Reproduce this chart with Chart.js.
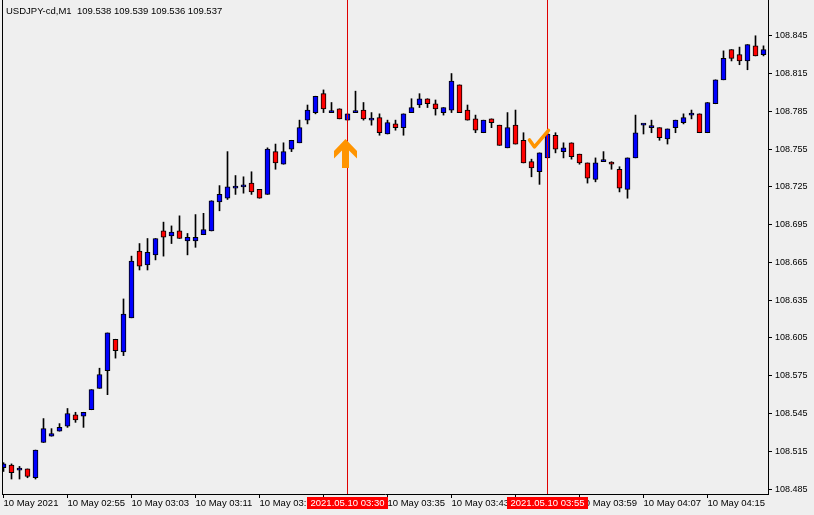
<!DOCTYPE html>
<html>
<head>
<meta charset="utf-8">
<script src="https://cdn.jsdelivr.net/npm/chart.js@4.4.1/dist/chart.umd.min.js"></script>
<style>
  html, body { margin: 0; padding: 0; background: #efefef; }
  #wrap { width: 814px; height: 515px; }
</style>
</head>
<body>
<div id="wrap"><canvas id="chart" width="814" height="515"></canvas></div>
<script>
// USDJPY-cd, M1 candles, 10 May 2021 02:47 .. 04:22
const opens  = [108.502,108.504,108.500,108.501,108.494,108.522,108.527,108.531,108.535,108.544,
                108.543,108.548,108.565,108.579,108.604,108.594,108.621,108.674,108.663,108.671,
                108.690,108.686,108.690,108.682,108.682,108.687,108.690,108.713,108.716,108.724,
                108.725,108.728,108.723,108.719,108.753,108.743,108.755,108.760,108.778,108.784,
                108.799,108.784,108.787,108.778,108.784,108.786,108.778,108.780,108.767,108.775,
                108.772,108.784,108.790,108.795,108.791,108.784,108.786,108.806,108.786,108.779,
                108.768,108.779,108.774,108.756,108.774,108.762,108.745,108.737,108.748,108.766,
                108.753,108.760,108.751,108.744,108.731,108.745,108.744,108.739,108.723,108.748,
                108.774,108.772,108.772,108.763,108.772,108.776,108.782,108.783,108.768,108.791,
                108.810,108.834,108.830,108.825,108.837,108.830];
const highs  = [108.506,108.505,108.503,108.501,108.516,108.541,108.533,108.537,108.549,108.546,
                108.546,108.564,108.581,108.609,108.604,108.636,108.670,108.680,108.684,108.684,
                108.697,108.694,108.702,108.688,108.703,108.704,108.714,108.726,108.753,108.734,
                108.733,108.737,108.723,108.756,108.759,108.760,108.762,108.778,108.790,108.797,
                108.802,108.792,108.787,108.783,108.801,108.792,108.784,108.783,108.778,108.778,
                108.783,108.795,108.799,108.795,108.794,108.788,108.815,108.806,108.790,108.782,
                108.778,108.779,108.774,108.784,108.786,108.768,108.747,108.752,108.768,108.768,
                108.760,108.760,108.751,108.744,108.748,108.753,108.745,108.741,108.748,108.782,
                108.775,108.778,108.772,108.771,108.778,108.783,108.786,108.783,108.792,108.810,
                108.833,108.834,108.836,108.838,108.845,108.837];
const lows   = [108.499,108.493,108.493,108.494,108.493,108.522,108.527,108.531,108.534,108.538,
                108.534,108.548,108.565,108.560,108.589,108.591,108.621,108.659,108.659,108.667,
                108.670,108.680,108.684,108.671,108.677,108.687,108.690,108.706,108.715,108.719,
                108.720,108.719,108.716,108.719,108.739,108.743,108.753,108.760,108.775,108.783,
                108.784,108.784,108.779,108.778,108.784,108.778,108.774,108.766,108.767,108.770,
                108.766,108.784,108.788,108.788,108.782,108.782,108.784,108.784,108.778,108.768,
                108.768,108.772,108.758,108.756,108.759,108.744,108.733,108.727,108.748,108.752,
                108.748,108.747,108.743,108.728,108.729,108.745,108.739,108.721,108.716,108.748,
                108.767,108.768,108.762,108.759,108.768,108.775,108.779,108.768,108.768,108.791,
                108.810,108.825,108.822,108.818,108.829,108.829];
const closes = [108.505,108.498,108.500,108.495,108.516,108.533,108.529,108.534,108.545,108.540,
                108.546,108.564,108.576,108.609,108.595,108.624,108.666,108.662,108.673,108.684,
                108.685,108.689,108.684,108.685,108.685,108.691,108.714,108.719,108.725,108.724,
                108.725,108.721,108.716,108.755,108.744,108.753,108.762,108.772,108.786,108.797,
                108.787,108.784,108.779,108.783,108.784,108.779,108.778,108.768,108.776,108.772,
                108.783,108.788,108.795,108.791,108.787,108.788,108.809,108.784,108.778,108.770,
                108.778,108.776,108.758,108.772,108.759,108.744,108.740,108.752,108.767,108.755,
                108.756,108.749,108.744,108.732,108.744,108.745,108.743,108.724,108.748,108.768,
                108.774,108.772,108.764,108.771,108.778,108.780,108.782,108.768,108.792,108.810,
                108.827,108.827,108.825,108.838,108.829,108.834];

const xTickIdx    = [0, 8, 16, 24, 32, 40, 48, 56, 64, 72, 80, 88];
const xTickLabels = ['10 May 2021', '10 May 02:55', '10 May 03:03', '10 May 03:11', '10 May 03:19',
                     '10 May 03:27', '10 May 03:35', '10 May 03:43', '10 May 03:51', '10 May 03:59',
                     '10 May 04:07', '10 May 04:15'];
const yTicks = [108.485, 108.515, 108.545, 108.575, 108.605, 108.635, 108.665,
                108.695, 108.725, 108.755, 108.785, 108.815, 108.845];
const yMin = 108.4811, yMax = 108.8734;

// vertical lines with their time labels
const vlineIdx    = [43, 68];
const vlineLabels = ['2021.05.10 03:30', '2021.05.10 03:55'];
// arrow objects
const arrowUp = { i: 43, price: 108.763 };
const checkMark = { i: 66, price: 108.771 };

const header = 'USDJPY-cd,M1  109.538 109.539 109.536 109.537';
const FONT = "'Liberation Sans', Arial, sans-serif";

const idx = opens.map((_, i) => i);
const bodies = idx.map(i => ({ x: i, y: [opens[i], closes[i]] }));
const wicks = idx.map(i => ({ x: i, y: [lows[i], highs[i]] }));
const bodyColors = idx.map(i => closes[i] >= opens[i] ? '#0000ff' : '#ff0000');

const overlay = {
    id: 'overlay',
    afterDatasetsDraw(chart) {
        const { ctx, chartArea: a, scales: { x, y } } = chart;
        ctx.save();
        // left border
        ctx.strokeStyle = '#000';
        ctx.lineWidth = 1;
        ctx.beginPath();
        ctx.moveTo(a.left + 0.5, a.top);
        ctx.lineTo(a.left + 0.5, a.bottom);
        ctx.stroke();

        // vertical lines
        ctx.strokeStyle = '#e00000';
        vlineIdx.forEach(i => {
            const px = Math.floor(x.getPixelForValue(i)) + 0.5;
            ctx.beginPath();
            ctx.moveTo(px, a.top);
            ctx.lineTo(px, a.bottom);
            ctx.stroke();
        });

        // up arrow
        const ax = x.getPixelForValue(arrowUp.i) - 2;
        const ay = y.getPixelForValue(arrowUp.price);
        ctx.fillStyle = '#ff9400';
        ctx.beginPath();
        ctx.moveTo(ax, ay);
        ctx.lineTo(ax + 11.5, ay + 12);
        ctx.lineTo(ax + 11.5, ay + 19.5);
        ctx.lineTo(ax + 3.5, ay + 11.5);
        ctx.lineTo(ax + 3.5, ay + 29);
        ctx.lineTo(ax - 3.5, ay + 29);
        ctx.lineTo(ax - 3.5, ay + 11.5);
        ctx.lineTo(ax - 11.5, ay + 19.5);
        ctx.lineTo(ax - 11.5, ay + 12);
        ctx.closePath();
        ctx.fill();

        // check mark
        const cx = x.getPixelForValue(checkMark.i);
        const cy = y.getPixelForValue(checkMark.price);
        ctx.strokeStyle = '#ff9400';
        ctx.lineWidth = 3.5;
        ctx.lineJoin = 'round';
        ctx.lineCap = 'round';
        ctx.beginPath();
        ctx.moveTo(cx - 2, cy + 11);
        ctx.lineTo(cx + 3, cy + 18);
        ctx.lineTo(cx + 17, cy + 1.5);
        ctx.stroke();
        ctx.restore();
    },
    afterDraw(chart) {
        const { ctx, chartArea: a, scales: { x } } = chart;
        ctx.save();
        ctx.font = '9.5px ' + FONT;
        ctx.textBaseline = 'middle';
        vlineIdx.forEach((i, k) => {
            const px = Math.floor(x.getPixelForValue(i));
            ctx.fillStyle = '#ff0000';
            ctx.fillRect(px - 40, a.bottom + 3, 81, 12);
            ctx.fillStyle = '#ffffff';
            ctx.textAlign = 'center';
            ctx.fillText(vlineLabels[k], px + 0.5, a.bottom + 9.5);
        });
        ctx.fillStyle = '#000';
        ctx.textAlign = 'left';
        ctx.fillText(header, 6, 11);
        ctx.restore();
    }
};

const ctx = document.getElementById('chart').getContext('2d');
new Chart(ctx, {
    type: 'bar',
    data: {
        datasets: [{
            label: 'body',
            data: bodies,
            backgroundColor: bodyColors,
            borderColor: '#000',
            borderWidth: 1,
            borderSkipped: false,
            barThickness: 5,
            minBarLength: 2,
            grouped: false,
            order: 1
        }, {
            label: 'wick',
            data: wicks,
            backgroundColor: '#000',
            borderWidth: 0,
            barThickness: 1,
            grouped: false,
            order: 2
        }]
    },
    options: {
        responsive: false,
        animation: false,
        devicePixelRatio: 1,
        layout: { padding: { left: 2, top: 0, right: 0, bottom: 0 } },
        plugins: {
            legend: { display: false },
            tooltip: { enabled: false }
        },
        scales: {
            x: {
                type: 'linear',
                position: 'bottom',
                offset: false,
                min: -0.1875,
                max: 95.5625,
                grid: { drawOnChartArea: false, drawTicks: true, tickLength: 4, color: '#000', offset: false },
                border: { display: true, color: '#000' },
                ticks: {
                    align: 'start',
                    autoSkip: false,
                    maxRotation: 0,
                    padding: 0,
                    color: '#000',
                    font: { family: FONT, size: 9.5 },
                    callback: (v, i) => xTickLabels[i]
                },
                afterBuildTicks: s => { s.ticks = xTickIdx.map(v => ({ value: v })); },
                afterFit: s => { s.height = 21; s.paddingLeft = 0; s.paddingRight = 0; }
            },
            y: {
                type: 'linear',
                position: 'right',
                min: yMin,
                max: yMax,
                grid: { drawOnChartArea: false, drawTicks: true, tickLength: 4, color: '#000' },
                border: { display: true, color: '#000' },
                ticks: {
                    padding: 3,
                    color: '#000',
                    font: { family: FONT, size: 9 },
                    callback: v => v.toFixed(3)
                },
                afterBuildTicks: s => { s.ticks = yTicks.map(v => ({ value: v })); },
                afterFit: s => { s.width = 46; s.paddingTop = 0; s.paddingBottom = 0; }
            }
        }
    },
    plugins: [overlay]
});
</script>
</body>
</html>
